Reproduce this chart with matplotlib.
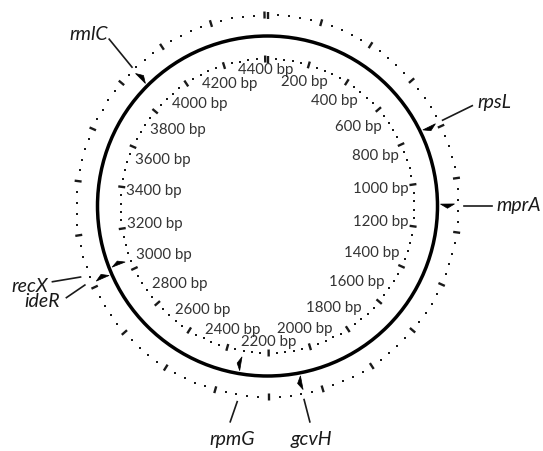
import numpy as np
import matplotlib.pyplot as plt
from matplotlib.patches import Circle, Polygon

# genome length in kb (labels in the figure say "bp")
genome_len = 4411
tick_step = 200
dot_step = 40
tick_values = list(range(0, 4401, 200))
tick_labels = [f"{v} bp" for v in tick_values]

# genes: position on the genome and strand (+1 outside the circle, -1 inside)
genes = ['rpsL', 'mprA', 'gcvH', 'rpmG', 'recX', 'ideR', 'rmlC']
gene_pos = [783, 1095, 2071, 2323, 3045, 3018, 3861]
gene_strand = [1, 1, 1, -1, -1, 1, 1]

# leader-line layout (radius/angle of both ends, text offset, alignment)
line_start = [(195, 63.9), (196, 90.0), (197, 169.3), (198, 188.8),
              (200, 249.2), (199, 246.6), (194, 315.7)]
line_end = [(228, 63.9), (224, 90.0), (220, 168.9), (219, 189.8),
            (228, 250.6), (221, 245.5), (230, 316.5)]
text_off = [(5, -3), (5, 0), (2, 9), (2, 9), (-4, 5), (-6, 4), (-1, 1)]
text_align = [('left', 'center'), ('left', 'center'), ('center', 'top'),
              ('center', 'top'), ('right', 'center'), ('right', 'center'),
              ('right', 'baseline')]

W, H = 543, 451
cx, cy = 267.5, 206
R_main, R_in, R_out = 170, 147, 191

plt.rcParams['font.family'] = ['Lato', 'DejaVu Sans']

fig = plt.figure(figsize=(W / 100, H / 100), dpi=100)
ax = fig.add_axes([0, 0, 1, 1])
ax.set_xlim(0, W)
ax.set_ylim(H, 0)
ax.axis('off')


def ang(v):
    return v / genome_len * 360.0


def pt(r, deg):
    t = np.radians(deg)
    return cx + r * np.sin(t), cy - r * np.cos(t)


# main circle
ax.add_patch(Circle((cx, cy), R_main, fill=False, lw=2.5, color='black'))

# dotted scale rings with ticks every 200
for R in (R_in, R_out):
    dots = [v for v in range(0, genome_len, dot_step) if v % tick_step != 0]
    xs, ys = zip(*[pt(R, ang(v)) for v in dots])
    ax.plot(xs, ys, 's', ms=1.9, color='#1a1a1a', mew=0)
    for v in tick_values:
        x0, y0 = pt(R - 3.5, ang(v))
        x1, y1 = pt(R + 3.5, ang(v))
        ax.plot([x0, x1], [y0, y1], color='#1a1a1a', lw=1.7, solid_capstyle='butt')

# tick labels inside the inner ring
fig.canvas.draw()
rend = fig.canvas.get_renderer()
R0 = 143
for v, lab in zip(tick_values, tick_labels):
    if v == 0:
        continue
    a = ang(v)
    t = ax.text(0, 0, lab, fontsize=10.8, color='#333333', ha='center', va='center')
    bb = t.get_window_extent(rend)
    w, h = bb.width, bb.height
    th = np.radians(a)
    rc = R0 - w / 2 * abs(np.sin(th)) - h / 2 * abs(np.cos(th))
    t.set_position(pt(rc, a))

# gene markers, leader lines and names
for g, p, s, ls, le, off, al in zip(genes, gene_pos, gene_strand, line_start,
                                    line_end, text_off, text_align):
    a = ang(p)
    r1, r2 = (R_main + 3, R_main + 17) if s > 0 else (R_main - 3, R_main - 17)
    da = np.degrees(4.0 / R_main)
    tri = [pt(r1, a), pt(r2, a), pt((r1 + r2) / 2, a + da)]
    ax.add_patch(Polygon(tri, closed=True, color='black', lw=0.5))
    x0, y0 = pt(*ls)
    x1, y1 = pt(*le)
    ax.plot([x0, x1], [y0, y1], color='#1a1a1a', lw=1.2)
    ax.text(x1 + off[0], y1 + off[1], g, fontsize=14, style='italic',
            color='#1a1a1a', ha=al[0], va=al[1])

fig.savefig('out.png', dpi=100)
